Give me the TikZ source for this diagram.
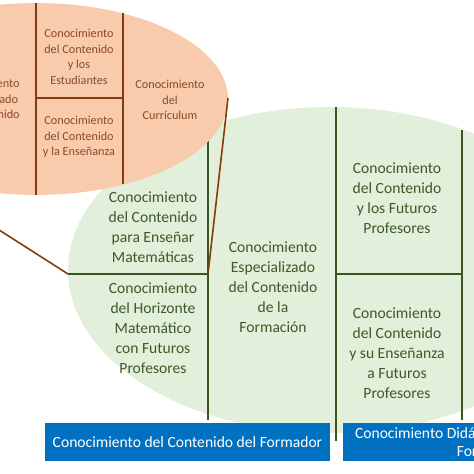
\documentclass[tikz,border=0pt]{standalone}
\usepackage{fontspec}
\setmainfont{Carlito}
\definecolor{orfill}{HTML}{F8CBAD}
\definecolor{orline}{HTML}{843C0C}
\definecolor{ortext}{HTML}{8A4A26}
\definecolor{grfill}{HTML}{E2EFDA}
\definecolor{grline}{HTML}{375623}
\definecolor{grtext}{HTML}{3D5A2B}
\definecolor{bluebox}{HTML}{0070C0}
\tikzset{
  gtext/.style={align=center, text=grtext, font=\fontsize{15.6}{20}\selectfont, inner sep=0pt},
  otext/.style={align=center, text=ortext, font=\fontsize{12.2}{15.5}\selectfont, inner sep=0pt},
  gline/.style={draw=grline, line width=1.6pt},
  oline/.style={draw=orline, line width=1.6pt},
  bbox/.style={fill=bluebox, text=white, align=center, font=\fontsize{15.6}{18}\selectfont, inner sep=0pt}
}
\begin{document}
\begin{tikzpicture}[x=1pt,y=-1pt]
\useasboundingbox (0,0) rectangle (474,474);
\clip (0,0) rectangle (474,474);
% green region
\fill[grfill] (330,270) ellipse [x radius=262, y radius=163];
\coordinate (g1t) at (208,120); \coordinate (g1b) at (208,420);
\coordinate (g2t) at (336,107); \coordinate (g2b) at (336,441);
\coordinate (g3t) at (462,130); \coordinate (g3b) at (462,420);
\coordinate (h1l) at (68,274); \coordinate (h1r) at (208,274);
\coordinate (h2l) at (336,274); \coordinate (h2r) at (462,274);
\draw[gline] (g1t) -- (g1b);
\draw[gline] (g2t) -- (g2b);
\draw[gline] (g3t) -- (g3b);
\draw[gline] (h1l) -- (h1r);
\draw[gline] (h2l) -- (h2r);
\node[gtext] (gA) at (153,227) {Conocimiento\\del Contenido\\para Enseñar\\Matemáticas};
\node[gtext] (gB) at (153,328) {Conocimiento\\del Horizonte\\Matemático\\con Futuros\\Profesores};
\node[gtext] (gC) at (273,287) {Conocimiento\\Especializado\\del Contenido\\de la\\Formación};
\node[gtext] (gD) at (397,198) {Conocimiento\\del Contenido\\y los Futuros\\Profesores};
\node[gtext] (gE) at (397,353) {Conocimiento\\del Contenido\\y su Enseñanza\\a Futuros\\Profesores};
% orange region
\fill[orfill] (36,99) ellipse [x radius=192, y radius=96];
\coordinate (o1t) at (36,3); \coordinate (o1b) at (36,195);
\coordinate (o2t) at (123,13); \coordinate (o2b) at (123,184);
\coordinate (oh) at (123,98);
\draw[oline] (o1t) -- (o1b);
\draw[oline] (o2t) -- (o2b);
\draw[oline] (36,98) -- (oh);
\node[otext] (oA) at (79,57) {Conocimiento\\del Contenido\\y los\\Estudiantes};
\node[otext] (oB) at (79,137) {Conocimiento\\del Contenido\\y la Enseñanza};
\node[otext] (oC) at (170,100) {Conocimiento\\del\\Currículum};
\node[otext] (oD) at (-15,99) {Conocimiento\\Especializado\\del Contenido};
% zoom connectors
\coordinate (zr) at (228,98);
\coordinate (zl) at (-40,205);
\draw[oline] (zr) -- (h1r);
\draw[oline] (zl) -- (h1l);
% blue boxes
\node[bbox, minimum width=285pt, minimum height=38pt] (b1) at (187.5,442) {Conocimiento del Contenido del Formador};
\node[bbox, minimum width=290pt, minimum height=38pt] (b2) at (488,442) {Conocimiento Didáctico del Contenido del\\Formador};
\end{tikzpicture}
\end{document}
